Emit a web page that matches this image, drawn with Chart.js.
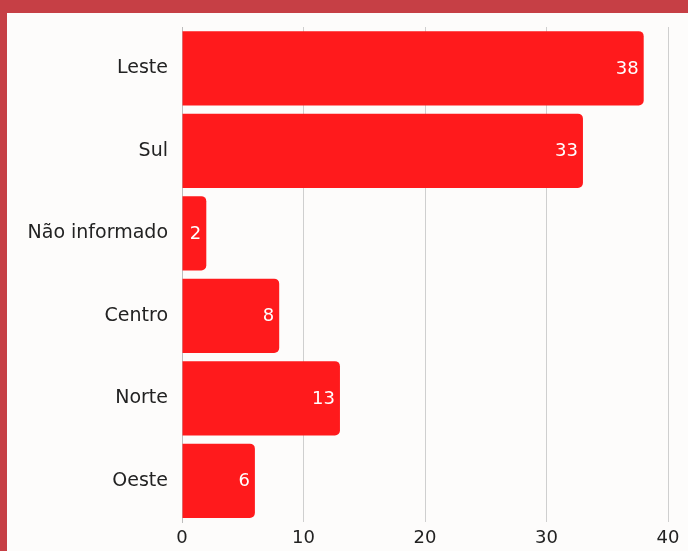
<!DOCTYPE html>
<html>
<head>
<meta charset="utf-8">
<script src="https://cdn.jsdelivr.net/npm/chart.js@4/dist/chart.umd.min.js"></script>
<style>
  html, body { margin: 0; padding: 0; }
  body { width: 688px; height: 551px; background: #c63f45; position: relative; overflow: hidden; }
  #wrap { position: absolute; left: 7px; top: 13px; width: 681px; height: 538px; background: #fdfcfb; }
</style>
</head>
<body>
<div id="wrap"><canvas id="regionChart" width="681" height="538"></canvas></div>
<script>
var regions = ["Leste", "Sul", "Não informado", "Centro", "Norte", "Oeste"];
var counts = [38, 33, 2, 8, 13, 6];
var xTicks = [0, 10, 20, 30, 40];

var fontFamily = "'DejaVu Sans', sans-serif";

// white value labels drawn at the inner end of each bar
var valueLabels = {
    id: "valueLabels",
    afterDatasetsDraw(chart) {
        var ctx = chart.ctx;
        ctx.save();
        ctx.fillStyle = "#ffffff";
        ctx.font = "18px " + fontFamily;
        ctx.textAlign = "right";
        ctx.textBaseline = "middle";
        chart.getDatasetMeta(0).data.forEach((bar, i) => {
            ctx.fillText(String(counts[i]), bar.x - 5, bar.y + 1);
        });
        ctx.restore();
    }
};

const data = {
    labels: regions,
    datasets: [
        {
            data: counts,
            backgroundColor: "#ff1a1c",
            borderRadius: 5,
            borderSkipped: "start",
            barPercentage: 0.9,
            categoryPercentage: 1
        },
    ],
};
const config = {
    type: "bar",
    data: data,
    plugins: [valueLabels],
    options: {
        indexAxis: 'y',
        responsive: false,
        animation: false,
        layout: { padding: { top: 14, right: 20, left: 0, bottom: 0 } },
        plugins: { legend: { display: false }, tooltip: { enabled: false } },
        scales: {
            x: {
                min: 0,
                max: 40,
                afterBuildTicks: (scale) => { scale.ticks = xTicks.map(v => ({ value: v })); },
                afterFit: (scale) => { scale.height = 29; },
                grid: { color: "#cfcfcf", drawTicks: false },
                border: { display: false },
                ticks: { color: "#222", padding: 6, font: { family: fontFamily, size: 18 } }
            },
            y: {
                afterFit: (scale) => {
                    scale.width = 175;
                    scale.paddingTop = 0;
                    scale.paddingBottom = 0;
                },
                grid: { display: false, drawTicks: false },
                border: { display: true, color: "#bdbdbd" },
                ticks: { color: "#222", padding: 14, font: { family: fontFamily, size: 19 } }
            }
        },
    },
};
const myChart = new Chart(document.getElementById("regionChart"), config);
</script>
</body>
</html>
